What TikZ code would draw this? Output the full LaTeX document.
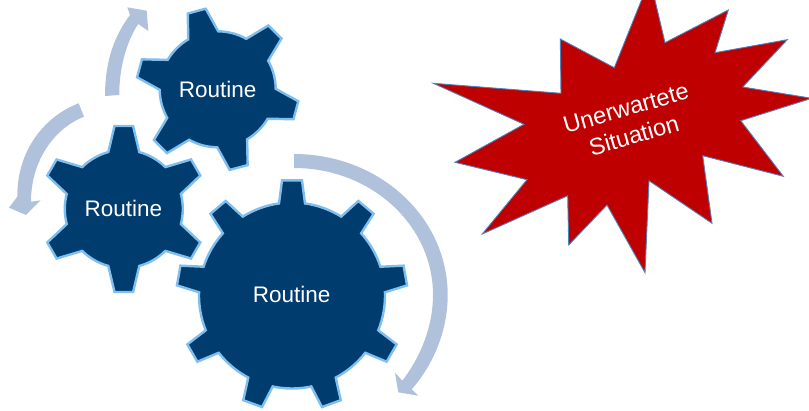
\documentclass[tikz,border=0pt]{standalone}
\usepackage{fontspec}
\setmainfont{Liberation Sans}
\definecolor{gearfill}{HTML}{003C6E}
\definecolor{gearline}{HTML}{7FBFF0}
\definecolor{arrowfill}{HTML}{B0C1DC}
\definecolor{starfill}{HTML}{BE0000}
\definecolor{starline}{HTML}{4F81BD}
\tikzset{
  gearshape/.style={fill=gearfill,draw=gearline,line width=2.4pt,line join=miter},
  cyclearrow/.style={fill=arrowfill,draw=none},
  burst/.style={fill=starfill,draw=starline,line width=0.9pt,line join=miter},
  gearlabel/.style={text=white,inner sep=0pt,font=\fontsize{22.5}{26}\selectfont},
  burstlabel/.style={text=white,inner sep=0pt,align=center,rotate=16,font=\fontsize{23.7}{28.5}\selectfont},
}
% #1 cx, #2 cy (from top), #3 teeth, #4 rotation, #5 body radius, #6 tip radius, #7 root half width, #8 tip half width
\newcommand{\drawgear}[8]{%
  \pgfmathsetmacro{\gst}{360/#3}%
  \pgfmathsetmacro{\gar}{asin(#7/#5)}%
  \pgfmathsetmacro{\gat}{asin(#8/#6)}%
  \pgfmathtruncatemacro{\glast}{#3-1}%
  \begin{scope}[shift={(#1pt,410pt-#2pt)}]
    \draw[gearshape] ({#4-\gar}:#5pt)
      \foreach \k in {0,...,\glast} {
        -- ({#4+\k*\gst-\gat}:#6pt)
        -- ({#4+\k*\gst+\gat}:#6pt)
        -- ({#4+\k*\gst+\gar}:#5pt)
        arc[start angle={#4+\k*\gst+\gar},end angle={#4+(\k+1)*\gst-\gar},radius=#5pt]
      } -- cycle;
  \end{scope}%
}
\begin{document}
\begin{tikzpicture}[x=1pt,y=1pt]
\useasboundingbox (0,0) rectangle (809,410);
\clip (0,0) rectangle (809,410);
\drawgear{217.7}{89.3}{6}{45}{58}{81.5}{15.5}{9.3}
\drawgear{123.8}{209}{6}{30}{59}{83.5}{15.5}{9.3}
\drawgear{292}{295.5}{9}{10}{93}{115.5}{13}{10}
\begin{scope}[shift={(0,410)},y=-1pt]
  % cycle arrows
  \fill[cyclearrow] (294,154) .. controls (379,154) and (447.7,217) .. (447.7,295)
     .. controls (447.7,330) and (434,364) .. (411.7,389.3)
     -- (418.3,395.7) -- (398.3,392.3) -- (395,372.7) -- (402.3,380.7)
     .. controls (420,358) and (433,327) .. (433,295)
     .. controls (433,225) and (371,168) .. (294,168) -- cycle;
  \fill[cyclearrow] (78.7,103.3) .. controls (45,116) and (17,150) .. (17.3,196.7)
     -- (9,207.7) -- (26,215) -- (40.7,200.3) -- (31,201.7)
     .. controls (31,160) and (55,128) .. (84,116.7) -- cycle;
  \fill[cyclearrow] (105,96) .. controls (105,60) and (115,35) .. (130,15)
     -- (127.3,7.3) -- (146.7,10.7) -- (148.3,31) -- (138.3,24)
     .. controls (126,42) and (119,70) .. (119.3,95) -- cycle;
  % burst
  \draw[burst] (433.3,83.3) -- (561,93.3) -- (560.3,39) -- (614.3,67.7) -- (650,-21)
     -- (665,42.7) -- (728.3,10) -- (715,52.7) -- (787.3,39.7) -- (742.7,87)
     -- (811.7,98.3) -- (740.7,120.7) -- (783.3,176.3) -- (702.7,155.7) -- (712,223.3)
     -- (649,180.7) -- (645,272.7) -- (607,205) -- (568.7,245) -- (567.7,195.7)
     -- (482.3,234) -- (527,179.7) -- (455,162.3) -- (524,124.3) -- cycle;
  \node[gearlabel] (routineTop) at (217.7,89.3) {Routine};
  \node[gearlabel] (routineLeft) at (123.3,208.3) {Routine};
  \node[gearlabel] (routineBottom) at (291.7,294.3) {Routine};
  \node[burstlabel] (surprise) at (630,122) {Unerwartete\\Situation};
\end{scope}
\end{tikzpicture}
\end{document}
